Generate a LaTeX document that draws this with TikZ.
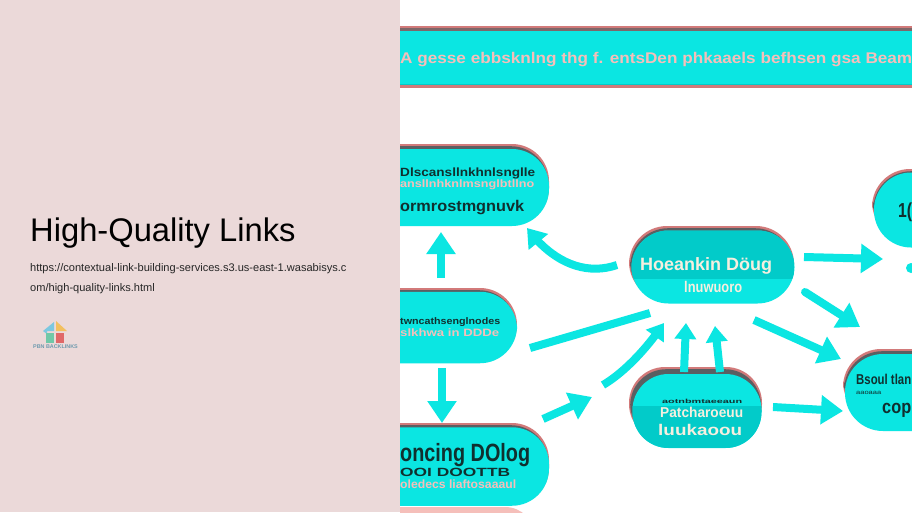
\documentclass[tikz,border=0pt]{standalone}
\usepackage{fontspec}
\setmainfont{Liberation Sans}
\usetikzlibrary{arrows.meta,bending}
\definecolor{panel}{HTML}{EBD9D9}
\definecolor{cy}{HTML}{0BE6E2}
\definecolor{cydark}{HTML}{02CBC9}
\definecolor{rimred}{HTML}{D27A7A}
\definecolor{rimdark}{HTML}{5A5F62}
\definecolor{ink}{HTML}{10302F}
\definecolor{pinktext}{HTML}{F5BFBA}
\definecolor{creamtext}{HTML}{F6EFDF}
\definecolor{logoblue}{HTML}{7CC8E0}
\definecolor{logoorange}{HTML}{F2C060}
\definecolor{logogreen}{HTML}{70C8A8}
\definecolor{logored}{HTML}{E06868}
\definecolor{logotext}{HTML}{6E9AAE}
\newcommand{\fitbox}[3]{\resizebox{#1pt}{#2pt}{\strut #3}}
% red rim with a dark inner line, drawn behind a pill
\newcommand{\rimmed}[5]{%
  \fill[rimred,rounded corners=#5pt] (#1,#2) rectangle (#3,#4);
  \fill[rimdark,rounded corners=#5pt] (#1+1.2,#2+2.2) rectangle (#3-1,#4);
}
\tikzset{
  flow/.style={draw=cy,line width=8pt,-{Triangle[width=28pt,length=22pt,flex=0.8]}},
  flowsmall/.style={draw=cy,line width=8pt,-{Triangle[width=21pt,length=16pt,flex=0.8]}},
  bar/.style={draw=cy,line width=8pt},
  pill/.style={fill=cy,rounded corners=37pt,inner sep=0pt},
  lab/.style={inner sep=0pt,anchor=west},
}
\begin{document}
\begin{tikzpicture}[x=1pt,y=-1pt]
\useasboundingbox (0,0) rectangle (912,512);
\fill[panel] (0,0) rectangle (400,512);
\fill[white] (400,0) rectangle (912,512);
% left panel
\node[inner sep=0pt,anchor=base west,font=\fontsize{32.7}{36}\selectfont,text=black] (title) at (30,241) {High-Quality Links};
\node[inner sep=0pt,anchor=base west,font=\fontsize{11.05}{12}\selectfont,text=black!85] (urlone) at (30,271.5) {https://contextual-link-building-services.s3.us-east-1.wasabisys.c};
\node[inner sep=0pt,anchor=base west,font=\fontsize{11.05}{12}\selectfont,text=black!85] (urltwo) at (30,291.5) {om/high-quality-links.html};
% logo
\fill[logoblue] (43,331) -- (54,322) -- (54,331) -- (47,331) -- (47,334) -- cycle;
\fill[logoorange] (56,321) -- (67,331) -- (56,331) -- cycle;
\fill[logogreen] (46,333) rectangle (54,343);
\fill[logored] (56,333) rectangle (64,343);
\node[inner sep=0pt,font=\bfseries\fontsize{5.4}{6}\selectfont,text=logotext] (logotext) at (55.5,346.5) {PBN BACKLINKS};
\begin{scope}
\clip (400,0) rectangle (912,512);
% top bar
\fill[rimred] (400,26) rectangle (912,88);
\fill[rimdark!70!rimred] (400,28) rectangle (912,31);
\fill[cy] (400,31) rectangle (912,85);
\fill[cydark] (400,83.5) rectangle (912,85);
\node[lab,text=pinktext,font=\bfseries] (bartext) at (400,60) {\fitbox{512}{13}{A gesse ebbsknlng thg f. entsDen phkaaels befhsen gsa Beam}};
% left column
\fill[fill=pinktext,rounded corners=30pt] (340,507) rectangle (535,570);
\rimmed{340}{144}{549}{225}{37}
\rimmed{340}{288}{517}{362}{37}
\rimmed{340}{423}{549}{505}{37}
\node[pill,minimum width=210pt,minimum height=77pt] (a) at (444,187.5) {};
\node[pill,minimum width=177pt,minimum height=71.5pt] (b) at (428.5,327.5) {};
\node[pill,minimum width=210pt,minimum height=78.5pt] (c) at (444,466.5) {};
\node[lab,text=ink,font=\bfseries] (atext) at (400,174) {\fitbox{135}{10}{Dlscansllnkhnlsnglle}};
\node[lab,text=pinktext,font=\bfseries] (atexttwo) at (400,185) {\fitbox{134}{9}{ansllnhknlmsnglbtllno}};
\node[lab,text=ink,font=\bfseries] (atextthree) at (400,208) {\fitbox{124}{13}{ormrostmgnuvk}};
\node[lab,text=ink,font=\bfseries] (btext) at (400,322) {\fitbox{100}{8}{twncathsenglnodes}};
\node[lab,text=pinktext,font=\bfseries] (btexttwo) at (400,334) {\fitbox{99}{9}{slkhwa in DDDe}};
\node[lab,text=ink,font=\bfseries] (ctext) at (400,455) {\fitbox{130}{21}{oncing DOlog}};
\node[lab,text=ink,font=\bfseries] (ctexttwo) at (400,474) {\fitbox{110}{10}{OOI DOOTTB}};
\node[lab,text=pinktext,font=\bfseries] (ctextthree) at (400,486) {\fitbox{116}{10}{oledecs liaftosaaaul}};
% centre
\rimmed{629}{226}{794}{300}{38}
\node[pill,minimum width=163pt,minimum height=73pt,rounded corners=37pt] (d) at (713,267) {};
\begin{scope}
\clip[rounded corners=37pt] (631.5,230.5) rectangle (794.5,303.5);
\fill[cydark] (631,230) rectangle (795,279);
\end{scope}
\node[lab,text=creamtext,font=\bfseries] (dtext) at (640,266) {\fitbox{132}{15}{Hoeankin Döug}};
\node[lab,text=creamtext,font=\bfseries] (dtexttwo) at (684,289) {\fitbox{58}{13}{lnuwuoro}};
\rimmed{629}{367}{762}{440}{36}
\node[pill,minimum width=129pt,minimum height=74pt,rounded corners=36pt] (e) at (697,411) {};
\begin{scope}
\clip[rounded corners=36pt] (632.5,374) rectangle (761.5,448);
\fill[cydark] (632,406) rectangle (762,448);
\end{scope}
\node[lab,text=ink,font=\bfseries] (etextzero) at (662,402) {\fitbox{80}{5}{aotnbmtaeeaun}};
\node[lab,text=creamtext,font=\bfseries] (etext) at (660,414) {\fitbox{83}{12}{Patcharoeuu}};
\node[lab,text=creamtext,font=\bfseries] (etexttwo) at (658,432) {\fitbox{84}{13}{luukaoou}};
% right column
\rimmed{872}{169}{980}{240}{38}
\node[pill,minimum width=110pt,minimum height=75pt,rounded corners=37pt] (f) at (929,210) {};
\node[lab,text=ink,font=\bfseries] (ftext) at (898,213) {\fitbox{14}{17}{1(}};
\rimmed{843}{349}{990}{420}{38}
\node[pill,minimum width=148pt,minimum height=77pt,rounded corners=38pt] (g) at (919,392.5) {};
\node[lab,text=ink,font=\bfseries] (gtext) at (856,381) {\fitbox{55}{12}{Bsoul tlan}};
\node[lab,text=ink] (gtexttwo) at (856,393) {\fitbox{25}{5}{aaoaaa}};
\node[lab,text=ink,font=\bfseries] (gtextthree) at (882,409) {\fitbox{29}{16}{cop}};
\fill[cy] (911,268) circle (5pt);
% connector ends
\coordinate (atail) at (441,278);
\coordinate (ahead) at (441,232);
\coordinate (dtail) at (617,265);
\coordinate (dhead) at (527,228);
\coordinate (ctail) at (442,368);
\coordinate (chead) at (442,423);
\coordinate (btail) at (530,348);
\coordinate (bend) at (650,313);
\coordinate (ftail) at (603,385);
\coordinate (fhead) at (664,323);
\coordinate (gtail) at (684,372);
\coordinate (ghead) at (686,323);
\coordinate (htail) at (720,372);
\coordinate (hhead) at (715,326);
\coordinate (itail) at (543,419);
\coordinate (ihead) at (592,397);
\coordinate (jtail) at (773,407);
\coordinate (jhead) at (843,411);
\coordinate (ktail) at (804,257);
\coordinate (khead) at (883,259);
\coordinate (ltail) at (805,292);
\coordinate (lhead) at (860,327);
\coordinate (mtail) at (754,320);
\coordinate (mhead) at (841,359);
% connectors
\draw[flow] (atail) -- (ahead);
\draw[flow,-{Triangle[width=24pt,length=18pt,flex=0.8]}] (dtail) .. controls (585,276) and (552,262) .. (dhead);
\draw[flow] (ctail) -- (chead);
\draw[bar] (btail) -- (bend);
\draw[flowsmall] (ftail) .. controls (625,372) and (648,347) .. (fhead);
\draw[flowsmall] (gtail) -- (ghead);
\draw[flowsmall] (htail) -- (hhead);
\draw[flow] (itail) -- (ihead);
\draw[flow] (jtail) -- (jhead);
\draw[flow] (ktail) -- (khead);
\draw[flow,line cap=round] (ltail) -- (lhead);
\draw[flow] (mtail) -- (mhead);
\end{scope}
\end{tikzpicture}
\end{document}
